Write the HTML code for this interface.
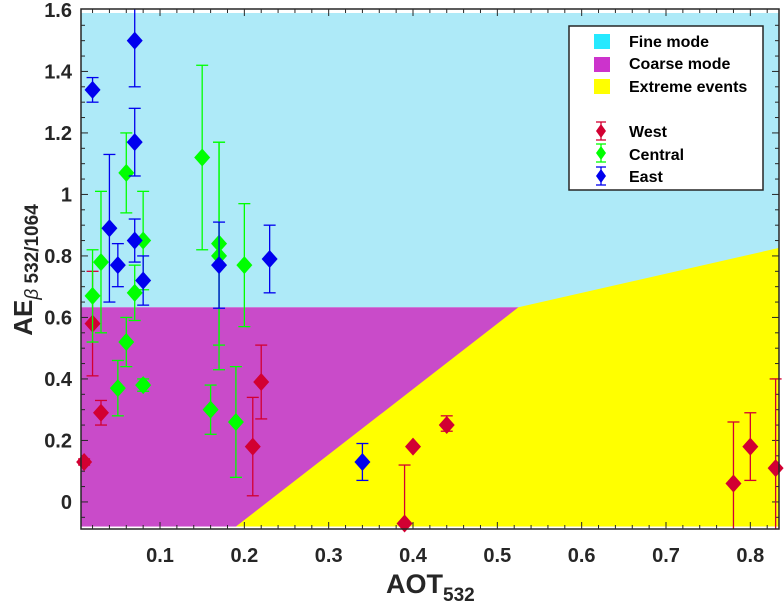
<!DOCTYPE html>
<html><head><meta charset="utf-8"><style>
body{margin:0;background:#fff;}
svg{display:block;font-family:"Liberation Sans",Arial,sans-serif;}
</style></head><body>
<svg id="chart" width="784" height="610" viewBox="0 0 784 610" xmlns="http://www.w3.org/2000/svg">
<g id="regions"></g>
<g id="ticks"></g>
<g id="marks"></g>
<rect x="81" y="9" width="698" height="520" fill="none" stroke="#262626" stroke-width="1.5"/>
<g id="labels" font-size="20" font-weight="bold" fill="#262626"></g>
<text transform="translate(32,270) rotate(-90)" text-anchor="middle" font-weight="bold" fill="#262626"><tspan font-size="26">AE</tspan><tspan font-size="19" dy="6" font-weight="normal" font-style="italic">β</tspan><tspan font-size="19" font-weight="bold"> 532/1064</tspan></text>
<text x="386" y="593" font-weight="bold" fill="#262626"><tspan font-size="27">AOT</tspan><tspan font-size="19" dy="8">532</tspan></text>
<g>
<rect x="569" y="26" width="194" height="164" fill="#fff" stroke="#262626" stroke-width="1.5"/>
<rect x="594" y="34" width="16" height="15" fill="#00e5ff" opacity="0.85"/>
<rect x="594" y="57" width="16" height="15" fill="#cc33cc"/>
<rect x="594" y="79" width="16" height="15" fill="#ffff00"/>
<g font-size="16" font-weight="bold" fill="#000">
<text x="629" y="47">Fine mode</text>
<text x="629" y="69">Coarse mode</text>
<text x="629" y="92">Extreme events</text>
<text x="629" y="137">West</text>
<text x="629" y="160">Central</text>
<text x="629" y="182">East</text>
</g>
<g id="legmarks"></g>
</g>
</svg>
<script>
const xTicks=[0.1,0.2,0.3,0.4,0.5,0.6,0.7,0.8];
const xTickLabels=["0.1","0.2","0.3","0.4","0.5","0.6","0.7","0.8"];
const yTicks=[0,0.2,0.4,0.6,0.8,1,1.2,1.4,1.6];
const yTickLabels=["0","0.2","0.4","0.6","0.8","1","1.2","1.4","1.6"];
const westX=[0.01,0.02,0.03,0.21,0.22,0.39,0.40,0.44,0.78,0.80,0.83];
const westY=[0.13,0.58,0.29,0.18,0.39,-0.07,0.18,0.25,0.06,0.18,0.11];
const westLo=[0.12,0.41,0.25,0.02,0.27,-0.3,0.175,0.23,-0.3,0.07,-0.3];
const westHi=[0.14,0.75,0.33,0.34,0.51,0.12,0.185,0.28,0.26,0.29,0.40];
const centralX=[0.02,0.03,0.06,0.07,0.08,0.15,0.17,0.17,0.20,0.06,0.05,0.08,0.16,0.19];
const centralY=[0.67,0.78,1.07,0.68,0.85,1.12,0.84,0.80,0.77,0.52,0.37,0.38,0.30,0.26];
const centralLo=[0.52,0.55,0.94,0.59,0.69,0.82,0.51,0.43,0.57,0.44,0.28,0.36,0.22,0.08];
const centralHi=[0.82,1.01,1.20,0.77,1.01,1.42,1.17,1.17,0.97,0.60,0.46,0.40,0.38,0.44];
const eastX=[0.02,0.07,0.07,0.04,0.05,0.07,0.08,0.17,0.23,0.34];
const eastY=[1.34,1.50,1.17,0.89,0.77,0.85,0.72,0.77,0.79,0.13];
const eastLo=[1.30,1.35,1.06,0.65,0.70,0.78,0.64,0.63,0.68,0.07];
const eastHi=[1.38,1.63,1.28,1.13,0.84,0.92,0.80,0.91,0.90,0.19];
const fineTop=1.59, coarseTop=0.633, shadeBottom=-0.08;
const extremeBoundaryX=[0.19,0.525,0.834];
const extremeBoundaryY=[-0.08,0.633,0.826];

const X0=0.0063,X1=0.834,Y0=-0.088,Y1=1.603;
const L=81,R=779,T=9,B=529;
const sx=v=>L+(v-X0)/(X1-X0)*(R-L);
const sy=v=>B-(v-Y0)/(Y1-Y0)*(B-T);
const NS="http://www.w3.org/2000/svg";
function mk(tag,parent,attrs){const e=document.createElementNS(NS,tag);for(const k in attrs)e.setAttribute(k,attrs[k]);parent.appendChild(e);return e;}

const reg=document.getElementById('regions');
let r=mk('rect',reg,{x:sx(X0),y:sy(fineTop),width:sx(X1)-sx(X0),height:sy(coarseTop)-sy(fineTop),fill:'#aeeaf8'});

r=mk('rect',reg,{x:sx(X0),y:sy(coarseTop),width:sx(X1)-sx(X0),height:sy(shadeBottom)-sy(coarseTop),fill:'#c94bc9'});

let pts=extremeBoundaryX.map((x,i)=>sx(x)+','+sy(extremeBoundaryY[i])).join(' ');
pts+=' '+sx(X1)+','+sy(shadeBottom);
r=mk('polygon',reg,{points:pts,fill:'#ffff00'});


const tk=document.getElementById('ticks');
for(let v=0.02;v<=0.83;v+=0.02){const major=Math.abs(v*10-Math.round(v*10))<1e-6;const len=major?7:4;const x=sx(v);
 mk('line',tk,{x1:x,x2:x,y1:B,y2:B-len,stroke:'#262626','stroke-width':1});
 mk('line',tk,{x1:x,x2:x,y1:T,y2:T+len,stroke:'#262626','stroke-width':1});}
for(let v=-0.05;v<=1.6;v+=0.05){const major=Math.abs(v*5-Math.round(v*5))<1e-6;const len=major?7:4;const y=sy(v);
 mk('line',tk,{x1:L,x2:L+len,y1:y,y2:y,stroke:'#262626','stroke-width':1});
 mk('line',tk,{x1:R,x2:R-len,y1:y,y2:y,stroke:'#262626','stroke-width':1});}

const lab=document.getElementById('labels');
xTicks.forEach((v,i)=>{const t=mk('text',lab,{x:sx(v),y:B+33,'text-anchor':'middle'});t.textContent=xTickLabels[i];
 });
yTicks.forEach((v,i)=>{const t=mk('text',lab,{x:L-9,y:sy(v)+7,'text-anchor':'end'});t.textContent=yTickLabels[i];
 });

const marks=document.getElementById('marks');
function point(g,px,py,lo,hi,col){
 const yl=Math.min(sy(lo),B),yh=Math.max(sy(hi),T);
 mk('line',g,{x1:px,x2:px,y1:yl,y2:yh,stroke:col,'stroke-width':1.3});
 if(sy(lo)<=B)mk('line',g,{x1:px-6,x2:px+6,y1:yl,y2:yl,stroke:col,'stroke-width':1.3});
 if(sy(hi)>=T)mk('line',g,{x1:px-6,x2:px+6,y1:yh,y2:yh,stroke:col,'stroke-width':1.3});
 mk('polygon',g,{points:`${px},${py-9} ${px+8},${py} ${px},${py+9} ${px-8},${py}`,fill:col});
}
function series(name,X,Y,Lo,Hi,col){
 const g=mk('g',marks,{});
 
 X.forEach((x,i)=>{const pg=mk('g',g,{});
  
  point(pg,sx(x),sy(Y[i]),Lo[i],Hi[i],col);});
}
series('west',westX,westY,westLo,westHi,'#d20032');
series('central',centralX,centralY,centralLo,centralHi,'#00ff00');
series('east',eastX,eastY,eastLo,eastHi,'#0000ee');

const lm=document.getElementById('legmarks');
[['#d20032',131],['#00ff00',153],['#0000ee',176]].forEach(([c,y])=>{
 const g=mk('g',lm,{});
 
 mk('line',g,{x1:601,x2:601,y1:y-9,y2:y+9,stroke:c,'stroke-width':1.3});
 mk('line',g,{x1:596,x2:606,y1:y-9,y2:y-9,stroke:c,'stroke-width':1.3});
 mk('line',g,{x1:596,x2:606,y1:y+9,y2:y+9,stroke:c,'stroke-width':1.3});
 mk('polygon',g,{points:`601,${y-7} 606,${y} 601,${y+7} 596,${y}`,fill:c});
});
</script>
</body></html>
